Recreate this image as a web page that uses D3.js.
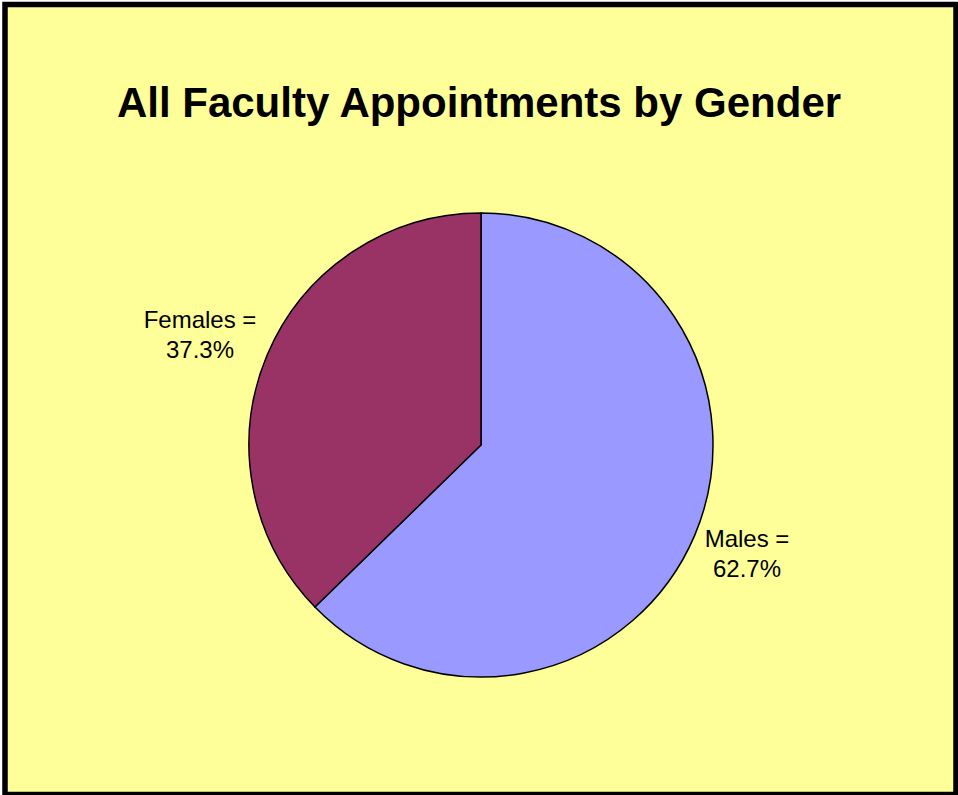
<!DOCTYPE html>
<html>
<head>
<meta charset="utf-8">
<script src="https://cdn.jsdelivr.net/npm/d3@7"></script>
<style>
  body { margin: 0; padding: 0; background: #fff; }
  svg { display: block; }
</style>
</head>
<body>
<svg id="chart" width="958" height="795"></svg>
<script>
// chart data
const categories = ["Males", "Females"];
const shares = [62.7, 37.3];
const labelLines = [["Males =", "62.7%"], ["Females =", "37.3%"]];
const colors = ["#9999FF", "#993366"];

const svg = d3.select("#chart");

// background and frame
svg.append("rect")
    .attr("x", 5).attr("y", 4.5)
    .attr("width", 951).attr("height", 790)
    .attr("fill", "#FFFF99")
    .attr("stroke", "#000")
    .attr("stroke-width", 5.5);

svg.append("text")
    .attr("x", 479)
    .attr("y", 117)
    .attr("text-anchor", "middle")
    .attr("font-family", "Arial, 'Liberation Sans', sans-serif")
    .attr("font-weight", "bold")
    .attr("font-size", 42)
    .text("All Faculty Appointments by Gender");

const cx = 481, cy = 445, radius = 232;

const pie = d3.pie().sort(null).value(d => d.value);
const arc = d3.arc().innerRadius(0).outerRadius(radius);

const data = categories.map((c, i) => ({ name: c, value: shares[i], idx: i }));

const g = svg.append("g").attr("transform", `translate(${cx},${cy})`);

g.selectAll("path")
    .data(pie(data))
    .join("path")
    .attr("d", arc)
    .attr("fill", d => colors[d.data.idx])
    .attr("stroke", "#000")
    .attr("stroke-width", 1.5);

// labels outside the slices, offsets relative to the centre
const labelPos = [[266, 102], [-281, -117]];

pie(data).forEach((d, i) => {
    const t = g.append("text")
        .attr("text-anchor", "middle")
        .attr("font-family", "Arial, 'Liberation Sans', sans-serif")
        .attr("font-size", 24);
    labelLines[i].forEach((line, j) => {
        t.append("tspan")
            .attr("x", labelPos[i][0])
            .attr("y", labelPos[i][1] + j * 30)
            .text(line);
    });
});
</script>
</body>
</html>
